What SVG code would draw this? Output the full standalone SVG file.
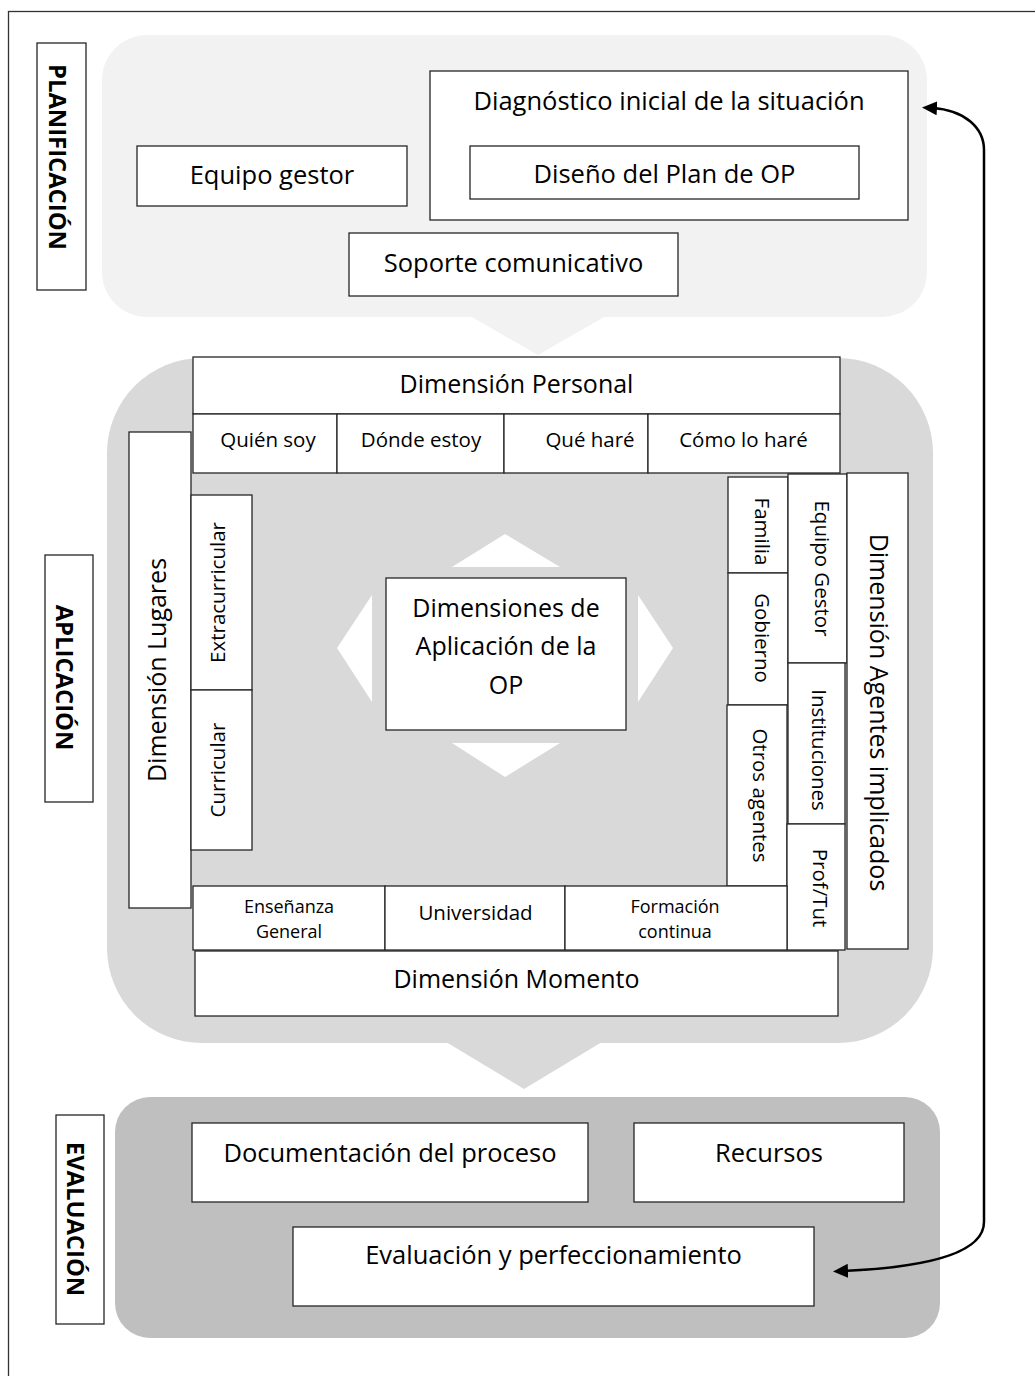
<svg xmlns="http://www.w3.org/2000/svg" width="1035" height="1376" viewBox="0 0 1035 1376">
<defs>
<style>
.box{fill:#fff;stroke:#262626;stroke-width:1.3}
.t{font-family:"Open Sans","Liberation Sans",sans-serif;fill:#000;text-anchor:middle}
.lg{font-size:25.5px}
.dm{font-size:25px}
.sm{font-size:20.5px}
.xs{font-size:18px}
.lb{font-size:23.8px;font-weight:bold}
.tri{stroke:none}
.conn{fill:none;stroke:#000;stroke-width:2.5}
</style>
<marker id="ah" viewBox="0 0 15 14" refX="5" refY="7" markerWidth="15" markerHeight="14" markerUnits="userSpaceOnUse" orient="auto-start-reverse">
<path d="M0,0 L15,7 L0,14 z" fill="#000"/>
</marker>
</defs>
<rect width="1035" height="1376" fill="#fff"/>
<rect id="frame" x="8.5" y="11.5" width="1040" height="1400" fill="none" stroke="#333" stroke-width="1.3"/>

<g id="planificacion-fase">
<rect x="102" y="35" width="825" height="282" rx="45" fill="#f2f2f2"/>
<polygon class="tri" points="470,316 606,316 538,355" fill="#f2f2f2"/>
</g>
<g id="aplicacion-fase">
<rect x="107" y="358" width="826" height="685" rx="95" fill="#d9d9d9"/>
<polygon class="tri" points="446,1042 602,1042 524,1089" fill="#d9d9d9"/>
<polygon class="tri" points="505,534 452,567 560,567" fill="#fff"/>
<polygon class="tri" points="452,743 560,743 505,777" fill="#fff"/>
<polygon class="tri" points="337,648 372,595 372,702" fill="#fff"/>
<polygon class="tri" points="638,595 673,648 638,702" fill="#fff"/>
</g>
<g id="evaluacion-fase">
<rect x="115" y="1097" width="825" height="241" rx="35" fill="#bfbfbf"/>
</g>

<g id="label-planificacion"><rect class="box" x="37" y="43" width="49" height="247"/><text class="t lb" transform="translate(57,157) rotate(90)" dy="0.35em">PLANIFICACIÓN</text></g>
<g id="label-aplicacion"><rect class="box" x="45" y="555" width="48" height="247"/><text class="t lb" transform="translate(64,677.5) rotate(90)" dy="0.35em">APLICACIÓN</text></g>
<g id="label-evaluacion"><rect class="box" x="56" y="1115" width="48" height="209"/><text class="t lb" transform="translate(75,1219) rotate(90)" dy="0.35em">EVALUACIÓN</text></g>

<g id="equipo-gestor"><rect class="box" x="137" y="146" width="270" height="60"/><text class="t lg" x="272" y="184">Equipo gestor</text></g>
<g id="diagnostico"><rect class="box" x="430" y="71" width="478" height="149"/><text class="t lg" x="669" y="110">Diagnóstico inicial de la situación</text></g>
<g id="diseno"><rect class="box" x="470" y="146" width="389" height="53"/><text class="t lg" x="664.5" y="183">Diseño del Plan de OP</text></g>
<g id="soporte"><rect class="box" x="349" y="233" width="329" height="63"/><text class="t lg" x="513.5" y="272">Soporte comunicativo</text></g>

<g id="dim-personal"><rect class="box" x="193" y="357" width="647" height="57"/><text class="t dm" x="516.5" y="393">Dimensión Personal</text></g>
<g id="quien-soy"><rect class="box" x="193" y="414" width="144" height="59"/><text class="t sm" x="268" y="447">Quién soy</text></g>
<g id="donde-estoy"><rect class="box" x="337" y="414" width="167" height="59"/><text class="t sm" x="421" y="447">Dónde estoy</text></g>
<g id="que-hare"><rect class="box" x="504" y="414" width="144" height="59"/><text class="t sm" x="590" y="447">Qué haré</text></g>
<g id="como-lo-hare"><rect class="box" x="648" y="414" width="192" height="59"/><text class="t sm" x="743.5" y="447">Cómo lo haré</text></g>

<g id="dim-lugares"><rect class="box" x="129" y="432" width="62" height="476"/><text class="t dm" transform="translate(157,670) rotate(-90)" dy="0.35em">Dimensión Lugares</text></g>
<g id="extracurricular"><rect class="box" x="191" y="495" width="61" height="195"/><text class="t sm" transform="translate(217.5,592.5) rotate(-90)" dy="0.35em">Extracurricular</text></g>
<g id="curricular"><rect class="box" x="191" y="690" width="61" height="160"/><text class="t sm" transform="translate(217.5,770) rotate(-90)" dy="0.35em">Curricular</text></g>

<g id="centro"><rect class="box" x="386" y="578" width="240" height="152"/><text class="t dm" x="506" y="617">Dimensiones de</text><text class="t dm" x="506" y="655">Aplicación de la</text><text class="t dm" x="506" y="694">OP</text></g>

<g id="familia"><rect class="box" x="728" y="477" width="60" height="96"/><text class="t sm" transform="translate(762,531.5) rotate(90)" dy="0.35em">Familia</text></g>
<g id="gobierno"><rect class="box" x="728" y="573" width="60" height="132"/><text class="t sm" transform="translate(762,638) rotate(90)" dy="0.35em">Gobierno</text></g>
<g id="otros-agentes"><rect class="box" x="727" y="705" width="60" height="181"/><text class="t sm" transform="translate(760,795.5) rotate(90)" dy="0.35em">Otros agentes</text></g>
<g id="equipo-gestor-agente"><rect class="box" x="788" y="474" width="59" height="189"/><text class="t sm" transform="translate(822,568.5) rotate(90)" dy="0.35em">Equipo Gestor</text></g>
<g id="instituciones"><rect class="box" x="788" y="663" width="57" height="161"/><text class="t sm" transform="translate(819,750) rotate(90)" dy="0.35em">Instituciones</text></g>
<g id="prof-tut"><rect class="box" x="787" y="824" width="58" height="126"/><text class="t sm" transform="translate(820,888) rotate(90)" dy="0.35em">Prof/Tut</text></g>
<g id="dim-agentes"><rect class="box" x="847" y="473" width="61" height="476"/><text class="t dm" transform="translate(879,712.5) rotate(90)" dy="0.35em">Dimensión Agentes implicados</text></g>

<g id="ensenanza"><rect class="box" x="193" y="886" width="192" height="64"/><text class="t xs" x="289" y="913">Enseñanza</text><text class="t xs" x="289" y="938">General</text></g>
<g id="universidad"><rect class="box" x="385" y="886" width="180" height="64"/><text class="t sm" x="475.5" y="920">Universidad</text></g>
<g id="formacion"><rect class="box" x="565" y="886" width="222" height="64"/><text class="t xs" x="675" y="913">Formación</text><text class="t xs" x="675" y="938">continua</text></g>
<g id="dim-momento"><rect class="box" x="195" y="951" width="643" height="65"/><text class="t dm" x="516.5" y="988">Dimensión Momento</text></g>

<g id="documentacion"><rect class="box" x="192" y="1123" width="396" height="79"/><text class="t lg" x="390" y="1162">Documentación del proceso</text></g>
<g id="recursos"><rect class="box" x="634" y="1123" width="270" height="79"/><text class="t lg" x="769" y="1162">Recursos</text></g>
<g id="evaluacion-perf"><rect class="box" x="293" y="1227" width="521" height="79"/><text class="t lg" x="553.5" y="1264">Evaluación y perfeccionamiento</text></g>

<g id="connectors">
<path class="conn" d="M843,1271 C910,1268 984,1258 984,1222 L984,150 C984,128 965,110 932,108" marker-start="url(#ah)" marker-end="url(#ah)"/>
</g>
</svg>
